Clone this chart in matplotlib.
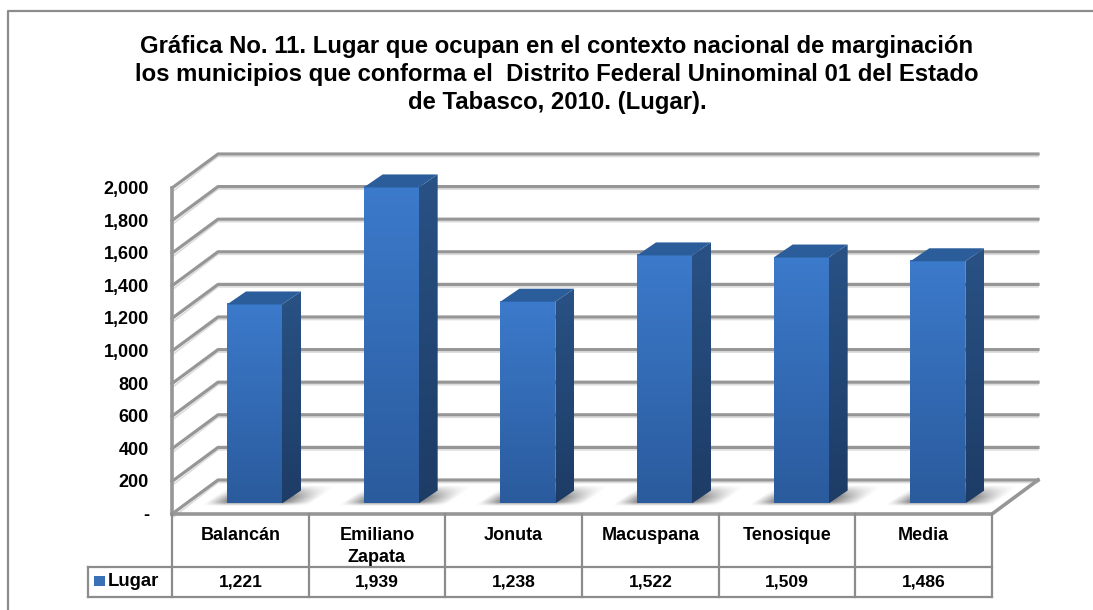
import matplotlib
matplotlib.use("Agg")
import matplotlib.pyplot as plt
import numpy as np
from matplotlib.patches import Polygon, Rectangle

plt.rcParams['font.family'] = ['Liberation Sans', 'DejaVu Sans']

title_lines = ["Gráfica No. 11. Lugar que ocupan en el contexto nacional de marginación",
               "los municipios que conforma el  Distrito Federal Uninominal 01 del Estado",
               "de Tabasco, 2010. (Lugar)."]
categories = ["Balancán", "Emiliano\nZapata", "Jonuta", "Macuspana", "Tenosique", "Media"]
values = [1221, 1939, 1238, 1522, 1509, 1486]
value_labels = ["1,221", "1,939", "1,238", "1,522", "1,509", "1,486"]
ticks = [0, 200, 400, 600, 800, 1000, 1200, 1400, 1600, 1800, 2000]
tick_labels = ["-", "200", "400", "600", "800", "1,000", "1,200", "1,400", "1,600", "1,800", "2,000"]
series_name = "Lugar"

fig = plt.figure(figsize=(10.93, 6.10), dpi=100)
ax = fig.add_axes([0, 0, 1, 1])
ax.set_xlim(0, 1093)
ax.set_ylim(610, 0)
ax.axis("off")

# chart frame (right side is cropped off in the original)
ax.plot([8, 8, 1093], [610, 11, 11], color="#8c8c8c", lw=1.6)

for i, line in enumerate(title_lines):
    ax.text(557, 46 + i * 28, line, ha="center", va="center", fontsize=17.2, fontweight="bold")

# fake 3d projection of the column chart
x0, x1 = 172, 992
y0 = 514
per_unit = 326 / 2000
dx, dy = 46, -34
cat_w = (x1 - x0) / len(categories)


def front_y(v):
    return y0 - v * per_unit


grid_c = "#969696"
for t, lab in zip(ticks, tick_labels):
    y = front_y(t)
    ax.plot([x0, x0 + dx, x1 + dx], [y, y + dy, y + dy], color=grid_c, lw=2.3, zorder=1,
            solid_joinstyle="round")
    ax.plot([x0 + 2, x0 + dx, x1 + dx], [y + 2.5, y + dy + 2.5, y + dy + 2.5], color="#dcdcdc", lw=1.2, zorder=0.9)
    ax.text(149, y + 1.5, lab, ha="right", va="center", fontsize=13, fontweight="bold")

ax.plot([x0, x0], [front_y(2000), y0], color=grid_c, lw=2.6, zorder=2)
ax.plot([x0, x1, x1 + dx], [y0, y0, y0 + dy], color=grid_c, lw=2.6, zorder=2)

# bars
bar_off, bar_w, bd_x, bd_y = 55, 55, 19, -13
base_gap = 10.5
g = np.linspace(0, 1, 64)[:, None, None]
top_c, bot_c = np.array([0.235, 0.478, 0.796]), np.array([0.165, 0.357, 0.616])
side_top, side_bot = np.array([0.16, 0.32, 0.52]), np.array([0.115, 0.235, 0.40])
for i, v in enumerate(values):
    xl = x0 + bar_off + i * cat_w
    xr = xl + bar_w
    yb = y0 - base_gap
    yt = yb - v * per_unit
    # soft skewed shadow on the floor
    sx, sy = np.meshgrid(np.linspace(xl - 40, xr + 50, 180), np.linspace(yb - 24, yb + 6, 60))
    u = sx + (sy - yb) * 1.46
    inside_x = np.clip((u - xl + 22) / 20, 0, 1) * np.clip((xr + 30 - u) / 28, 0, 1)
    inside_y = np.clip((sy - yb + 18) / 12, 0, 1) * np.clip((yb + 3 - sy) / 4, 0, 1)
    shadow = np.zeros(sx.shape + (4,))
    shadow[..., :3] = 0.4
    shadow[..., 3] = inside_x * inside_y * 0.75
    ax.imshow(shadow, extent=(xl - 40, xr + 50, yb + 6, yb - 24), aspect="auto", zorder=2.5,
              interpolation="bilinear")
    # front face
    ax.imshow(top_c * (1 - g) + bot_c * g, extent=(xl, xr, yb, yt), aspect="auto", zorder=3)
    # side face
    side = Polygon([(xr, yt), (xr + bd_x, yt + bd_y), (xr + bd_x, yb + bd_y), (xr, yb)], closed=True,
                   fc="none", ec="none")
    ax.add_patch(side)
    img = ax.imshow(side_top * (1 - g) + side_bot * g, extent=(xr, xr + bd_x, yb, yt + bd_y), aspect="auto", zorder=3)
    img.set_clip_path(side)
    # top face
    ax.add_patch(Polygon([(xl, yt), (xl + bd_x, yt + bd_y), (xr + bd_x, yt + bd_y), (xr, yt)], closed=True,
                         fc="#2b5d9b", ec="none", zorder=3))

ax.set_xlim(0, 1093)
ax.set_ylim(610, 0)

# data table below the plot
t_top, t_mid, t_bot = y0, 567, 597
leg_x = 88
tc = "#8c8c8c"
for i in range(len(categories) + 1):
    xp = x0 + i * cat_w
    ax.plot([xp, xp], [t_top, t_bot], color=tc, lw=1.6, zorder=2)
ax.plot([leg_x, x1], [t_mid, t_mid], color=tc, lw=1.6)
ax.plot([leg_x, x1], [t_bot, t_bot], color=tc, lw=1.6)
ax.plot([leg_x, leg_x], [t_mid, t_bot], color=tc, lw=1.6)
for i, (c, lab) in enumerate(zip(categories, value_labels)):
    xc = x0 + (i + 0.5) * cat_w
    for j, part in enumerate(c.split("\n")):
        ax.text(xc, 535 + j * 22, part, ha="center", va="center", fontsize=13, fontweight="bold")
    ax.text(xc, 582, lab, ha="center", va="center", fontsize=12.6, fontweight="bold")
ax.add_patch(Rectangle((94, 576), 11, 10, fc="#3a70b5", ec="none"))
ax.text(108, 582, series_name, ha="left", va="center", fontsize=13.3, fontweight="bold")

fig.savefig("out.png", dpi=100)
